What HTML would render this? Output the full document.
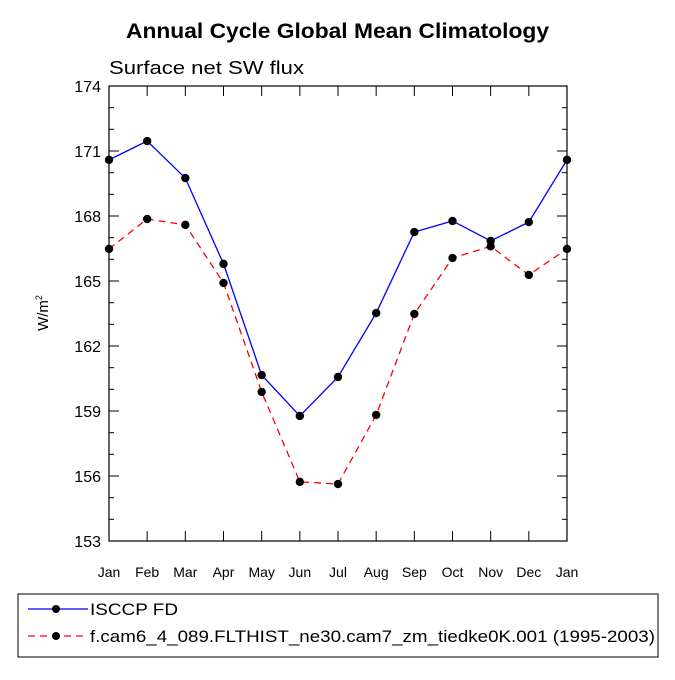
<!DOCTYPE html>
<html><head><meta charset="utf-8"><style>
body{margin:0;background:#fff;font-family:"Liberation Sans",Arial,sans-serif}
</style></head><body>
<svg id="chart" width="675" height="675" xmlns="http://www.w3.org/2000/svg" font-family="Liberation Sans, Arial, sans-serif">
<text x="126" y="38" font-size="21" font-weight="bold" textLength="423" lengthAdjust="spacingAndGlyphs">Annual Cycle Global Mean Climatology</text>
<text x="109" y="74" font-size="18" textLength="195" lengthAdjust="spacingAndGlyphs">Surface net SW flux</text>
<g id="axes"></g>
<g id="series"></g>
<g>
<rect x="18" y="594" width="640" height="63" fill="none" stroke="#000" stroke-width="1"/>
<line x1="28" y1="609" x2="88" y2="609" stroke="#0000ff" stroke-width="1.3"/>
<circle cx="56" cy="609" r="4" fill="#000"/>
<text x="90" y="615" font-size="17" textLength="88" lengthAdjust="spacingAndGlyphs">ISCCP FD</text>
<line x1="28" y1="636" x2="88" y2="636" stroke="#ff0000" stroke-width="1.3" stroke-dasharray="7,5"/>
<circle cx="56" cy="636" r="4" fill="#000"/>
<text x="90" y="642" font-size="17" textLength="565" lengthAdjust="spacingAndGlyphs">f.cam6_4_089.FLTHIST_ne30.cam7_zm_tiedke0K.001 (1995-2003)</text>
</g>
</svg>
<script>
const months = ["Jan","Feb","Mar","Apr","May","Jun","Jul","Aug","Sep","Oct","Nov","Dec","Jan"];
const yTicks = [153,156,159,162,165,168,171,174];
const obsValues = [170.59,171.46,169.75,165.79,160.66,158.77,160.57,163.52,167.26,167.77,166.85,167.72,170.59];
const modelValues = [166.48,167.86,167.59,164.91,159.88,155.73,155.63,158.82,163.48,166.06,166.6,165.28,166.48];
const X0=109,X1=567,Y0=86,Y1=541,YMIN=153,YMAX=174;
const xs=i=>X0+(X1-X0)*i/(months.length-1);
const ys=v=>Y1-(v-YMIN)/(YMAX-YMIN)*(Y1-Y0);
const NS="http://www.w3.org/2000/svg";
function mk(tag,attrs,parent,text){const e=document.createElementNS(NS,tag);for(const k in attrs)e.setAttribute(k,attrs[k]);if(text!==undefined)e.textContent=text;parent.appendChild(e);return e;}
const ax=document.getElementById('axes');
const frame=mk('rect',{x:X0,y:Y0,width:X1-X0,height:Y1-Y0,fill:'none',stroke:'#000','stroke-width':1.2},ax);


for(let v=YMIN;v<=YMAX;v++){
  const y=ys(v);const major=yTicks.includes(v);const L=major?10:5;
  mk('line',{x1:X0,y1:y,x2:X0+L,y2:y,stroke:'#000'},ax);
  mk('line',{x1:X1,y1:y,x2:X1-L,y2:y,stroke:'#000'},ax);
}
yTicks.forEach(v=>{
  const t=mk('text',{x:X0-8,y:ys(v)+6,'text-anchor':'end','font-size':16},ax,String(v));
  
  
});
months.forEach((m,i)=>{
  const x=xs(i);
  mk('line',{x1:x,y1:Y1,x2:x,y2:Y1-10,stroke:'#000'},ax);
  mk('line',{x1:x,y1:Y0,x2:x,y2:Y0+10,stroke:'#000'},ax);
  const t=mk('text',{x:x,y:Y1+36,'text-anchor':'middle','font-size':14},ax,m);
  
  
});
const yt=mk('text',{x:0,y:0,transform:'translate(48,313) rotate(-90)','text-anchor':'middle','font-size':15},ax);


yt.innerHTML='W/m<tspan font-size="9" dy="-6">2</tspan>';
const sg=document.getElementById('series');
function series(vals,color,dash,name){
  const pts=vals.map((v,i)=>xs(i)+','+ys(v)).join(' ');
  const pl=mk('polyline',{points:pts,fill:'none',stroke:color,'stroke-width':1.3,'stroke-dasharray':dash},sg);
  
  
  vals.forEach((v,i)=>{
    const c=mk('circle',{cx:xs(i),cy:ys(v),r:4.2,fill:'#000'},sg);
    
    
  });
}
series(modelValues,'#ff0000','7,5','model');
series(obsValues,'#0000ff','none','isccp');
</script>
</body></html>
